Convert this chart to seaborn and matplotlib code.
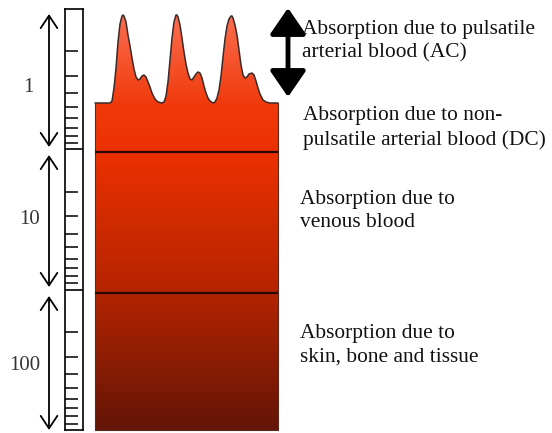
import numpy as np
import matplotlib
matplotlib.use("Agg")
import matplotlib.pyplot as plt
import seaborn as sns
from matplotlib.colors import LinearSegmentedColormap
from matplotlib.patches import Polygon
from matplotlib.ticker import LogLocator, NullFormatter, NullLocator

W, H = 552, 433

# pulse waveform on top of the block (picture pixels, y grows downwards)
wave_x = [95, 110, 112, 114, 116, 118, 120, 122, 123, 124, 126, 128, 130, 132, 134, 136, 138, 140,
          142, 144, 146, 148, 150, 152, 155, 158,
          162, 164, 166, 168, 170, 172, 174, 176, 177, 178, 180, 182, 184, 186, 188, 190, 192,
          194, 196, 198, 200, 202, 204, 206, 208, 210,
          213, 215, 217, 219, 221, 223, 225, 227, 229, 231, 232, 233, 235, 237, 239, 241, 243,
          245, 247, 249, 252, 254, 256, 258, 260, 263, 266, 270, 278]
wave_y = [103, 103, 101, 88, 68, 42, 24, 16, 15, 16, 22, 35, 46, 58, 69, 77, 80, 79,
          76, 75, 77, 82, 87, 93, 99, 102,
          103, 102, 96, 82, 60, 38, 22, 15, 15, 17, 25, 38, 52, 64, 73, 79, 80,
          77, 74, 72, 73, 78, 86, 93, 98, 101,
          103, 102, 98, 90, 76, 57, 39, 26, 19, 16, 16, 18, 25, 35, 50, 65, 75,
          78, 77, 74, 73, 75, 81, 88, 94, 100, 102, 103, 103]

block_left, block_right, block_bottom = 95, 278, 430
layer_lines = [152, 293]

# colour of the tissue from top to bottom
grad_y = [15, 103, 152, 293, 430]
grad_colors = ["#fb6e50", "#f03a0c", "#ec3100", "#b42400", "#631507"]

labels = ["Absorption due to pulsatile\narterial blood (AC)",
          "Absorption due to non-\npulsatile arterial blood (DC)",
          "Absorption due to\nvenous blood",
          "Absorption due to\nskin, bone and tissue"]
label_x = [302, 303, 300, 300]
label_y = [41, 128, 211, 345]

decade_labels = ["1", "10", "100"]
decade_x = [28, 30, 25]
decade_y = [87, 220, 365]
decade_arrows = [(14, 147), (155, 287), (296, 430)]
ac_arrow = (8, 97)

sns.set_theme(style="white")
plt.rcParams["font.family"] = ["Liberation Serif", "DejaVu Serif"]

fig = plt.figure(figsize=(W / 100, H / 100), dpi=100)
ax = fig.add_axes([0, 0, 1, 1])

# gradient block clipped by the waveform
pos = [(y - grad_y[0]) / (grad_y[-1] - grad_y[0]) for y in grad_y]
cmap = LinearSegmentedColormap.from_list("tissue", list(zip(pos, grad_colors)))
grad = np.linspace(0, 1, 256).reshape(-1, 1)
im = ax.imshow(grad, cmap=cmap, aspect="auto", origin="upper",
               extent=[block_left, block_right, block_bottom, grad_y[0]], zorder=1)
verts = list(zip(wave_x, wave_y)) + [(block_right, block_bottom), (block_left, block_bottom)]
clip = Polygon(verts, closed=True, transform=ax.transData, facecolor="none", edgecolor="none")
ax.add_patch(clip)
im.set_clip_path(clip)

sns.lineplot(x=wave_x, y=wave_y, sort=False, color="#3b2a28", lw=1.1, ax=ax, zorder=3)
ax.plot([block_left, block_left, block_right, block_right],
        [wave_y[0], block_bottom, block_bottom, wave_y[-1]], color="#5a2a20", lw=0.8, zorder=3)
ax.hlines(layer_lines, block_left, block_right, color="#2a0804", lw=1.6, zorder=3)

# decade arrows on the left
for (a, b), lab, lx, ly in zip(decade_arrows, decade_labels, decade_x, decade_y):
    ax.annotate("", xy=(49, a), xytext=(49, b),
                arrowprops=dict(arrowstyle="<->,head_length=0.45,head_width=0.3", lw=1.3,
                                color="black", shrinkA=0, shrinkB=0, mutation_scale=20))
    ax.text(lx, ly, lab, fontsize=15, ha="center", va="center", color="#333333")

# AC arrow
ax.annotate("", xy=(288, ac_arrow[0]), xytext=(288, ac_arrow[1]),
            arrowprops=dict(arrowstyle="<|-|>,head_length=0.8,head_width=0.55", lw=3.5,
                            color="black", shrinkA=0, shrinkB=0, mutation_scale=20))

for lab, lx, ly in zip(labels, label_x, label_y):
    ax.text(lx, ly, lab, fontsize=15.4, ha="left", va="center", linespacing=1.3, color="#111111")

ax.set_xlim(0, W)
ax.set_ylim(H, 0)
ax.axis("off")

# logarithmic ruler
ruler = fig.add_axes([65 / W, 1 - 430 / H, 18 / W, 421 / H], zorder=5)
ruler.set_facecolor("white")
ruler.set_yscale("log")
ruler.set_ylim(1000, 1)
ruler.set_xticks([])
ruler.yaxis.set_major_locator(NullLocator())
ruler.yaxis.set_minor_locator(LogLocator(base=10, subs=np.arange(2, 10)))
ruler.yaxis.set_minor_formatter(NullFormatter())
ruler.tick_params(axis="y", which="minor", direction="in", length=9.3, width=1.1,
                  color="black", left=True, right=False)
ruler.axhline(10, color="black", lw=1.2)
ruler.axhline(100, color="black", lw=1.2)
for s in ruler.spines.values():
    s.set_color("black")
    s.set_linewidth(1.2)

fig.savefig("out.png", dpi=100)
